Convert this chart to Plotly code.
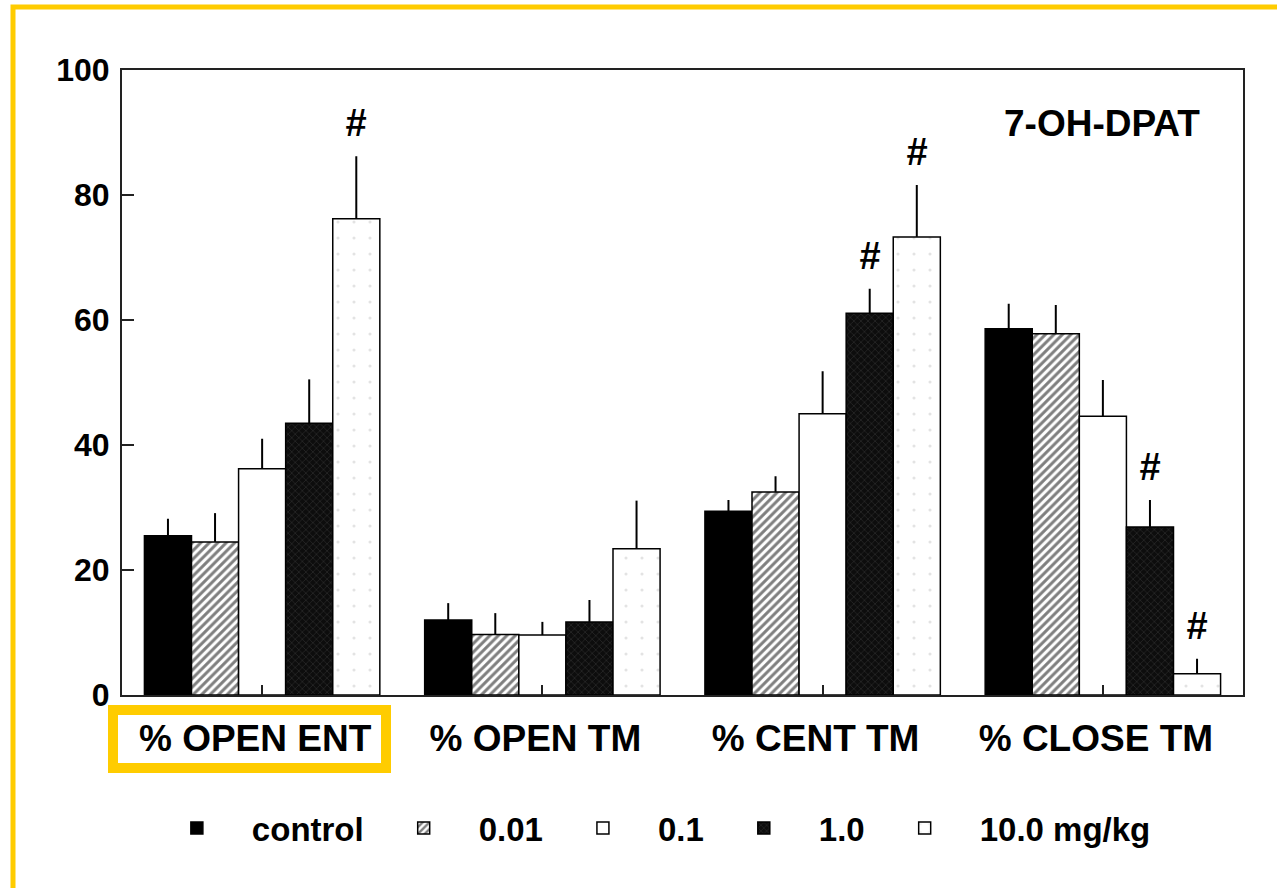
import plotly.graph_objects as go

# ---------------- data ----------------
categories = ["% OPEN ENT", "% OPEN TM", "% CENT TM", "% CLOSE TM"]
series_names = ["control", "0.01", "0.1", "1.0", "10.0 mg/kg"]

control_mean = [25.5, 12.0, 29.4, 58.6]
control_sem = [2.7, 2.7, 1.8, 4.0]
dose001_mean = [24.5, 9.7, 32.5, 57.8]
dose001_sem = [4.6, 3.4, 2.5, 4.6]
dose01_mean = [36.2, 9.6, 45.0, 44.6]
dose01_sem = [4.8, 2.1, 6.8, 5.8]
dose1_mean = [43.5, 11.7, 61.1, 26.9]
dose1_sem = [7.0, 3.5, 3.9, 4.3]
dose10_mean = [76.2, 23.4, 73.3, 3.4]
dose10_sem = [10.0, 7.7, 8.3, 2.4]

means = [control_mean, dose001_mean, dose01_mean, dose1_mean, dose10_mean]
sems = [control_sem, dose001_sem, dose01_sem, dose1_sem, dose10_sem]

# significant differences (#): (series index, category index)
significant = [(4, 0), (3, 2), (4, 2), (3, 3), (4, 3)]

y_ticks = [0, 20, 40, 60, 80, 100]
panel_label = "7-OH-DPAT"

# ---------------- styles ----------------
FONT = "Liberation Sans, Arial, Helvetica, sans-serif"
styles = [
    dict(color="#000000", pattern=dict(shape="")),
    dict(color="#ffffff", pattern=dict(shape="/", fgcolor="#000000", bgcolor="#ffffff",
                                       size=6, solidity=0.5)),
    dict(color="#ffffff", pattern=dict(shape="")),
    dict(color="#0d0d0d", pattern=dict(shape="x", fgcolor="#5a5a5a", bgcolor="#0d0d0d",
                                       size=5, solidity=0.2)),
    dict(color="#ffffff", pattern=dict(shape=".", fgcolor="#c8c8c8", bgcolor="#ffffff",
                                       size=16, solidity=0.03)),
]

BARGAP = 0.16

fig = go.Figure()
for name, m, s, st in zip(series_names, means, sems, styles):
    fig.add_trace(go.Bar(
        name=name,
        x=categories,
        y=m,
        marker=dict(color=st["color"], pattern=st["pattern"],
                    line=dict(color="#000000", width=1.5)),
        error_y=dict(type="data", array=s, arrayminus=[0] * len(s), symmetric=False,
                     color="#000000", thickness=2, width=0),
    ))

# "#" markers above significant bars
bar_w = (1 - BARGAP) / len(series_names)
for si, ci in significant:
    xpos = ci + (si - (len(series_names) - 1) / 2) * bar_w
    fig.add_annotation(
        x=xpos, y=means[si][ci] + sems[si][ci], xref="x", yref="y",
        text="<b><i>#</i></b>", showarrow=False, yanchor="bottom", yshift=10,
        font=dict(family=FONT, size=38, color="#000000"),
    )

# panel label
fig.add_annotation(
    x=0.963, y=0.915, xref="paper", yref="paper", xanchor="right", yanchor="middle",
    text="<b>" + panel_label + "</b>", showarrow=False,
    font=dict(family=FONT, size=37, color="#000000"),
)

# pixel helpers for decorative highlight frames
L, R, T, B = 122, 1243, 70, 695
def px_x(p):
    return (p - L) / (R - L)
def px_y(p):
    return (B - p) / (B - T)

YELLOW = "#FFCC00"
fig.add_shape(type="rect", xref="paper", yref="paper",
              x0=px_x(13), x1=px_x(1300), y0=px_y(7), y1=px_y(920),
              line=dict(color=YELLOW, width=5), fillcolor="rgba(0,0,0,0)")
fig.add_shape(type="rect", xref="paper", yref="paper",
              x0=px_x(113), x1=px_x(386), y0=px_y(710), y1=px_y(768),
              line=dict(color=YELLOW, width=10), fillcolor="rgba(0,0,0,0)")

fig.update_layout(
    width=1277, height=888,
    margin=dict(l=L, r=1277 - R, t=T, b=888 - B),
    paper_bgcolor="#ffffff", plot_bgcolor="#ffffff",
    barmode="group", bargap=BARGAP, bargroupgap=0,
    font=dict(family=FONT, color="#000000"),
    showlegend=True,
    legend=dict(orientation="h", x=0.47, xanchor="center", y=-0.213, yanchor="middle",
                font=dict(family=FONT, size=33, color="#000000", weight="bold"),
                itemwidth=100, traceorder="normal"),
)
fig.update_xaxes(
    type="category", range=[-0.5, 3.5],
    showline=True, linecolor="#222222", linewidth=2, mirror=True,
    ticks="inside", ticklen=10, tickwidth=2, tickcolor="#222222",
    tickfont=dict(family=FONT, size=37, color="#000000", weight="bold"),
    ticklabelstandoff=10, ticklabelshift=-7,
    showgrid=False, zeroline=False,
)
fig.update_yaxes(
    range=[0, 100], tickvals=y_ticks, ticktext=[str(v) for v in y_ticks],
    showline=True, linecolor="#222222", linewidth=2, mirror=True,
    ticks="inside", ticklen=12, tickwidth=2, tickcolor="#222222",
    tickfont=dict(family=FONT, size=32, color="#000000", weight="bold"),
    ticklabelstandoff=4,
    showgrid=False, zeroline=False,
)

fig.write_html("out.html")
